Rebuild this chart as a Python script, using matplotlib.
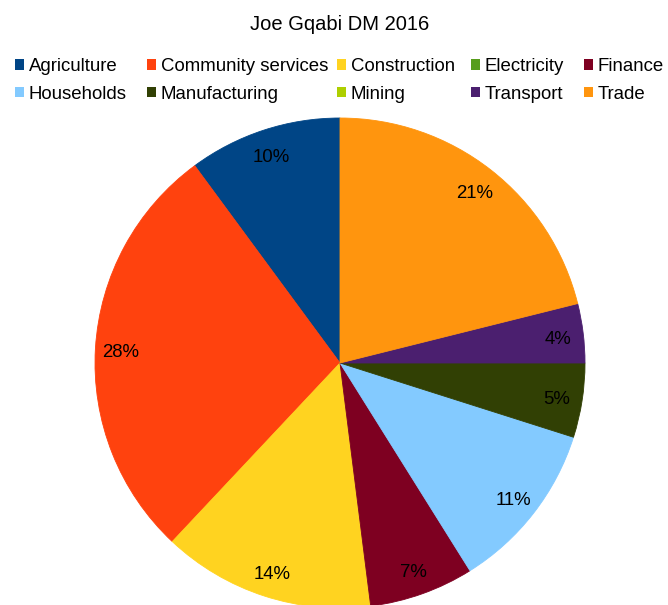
import matplotlib.pyplot as plt
from matplotlib.patches import Patch
from matplotlib.transforms import offset_copy

plt.rcParams['font.family'] = ['Liberation Sans', 'DejaVu Sans']

# Sector shares, Joe Gqabi DM 2016
sectors = ['Agriculture', 'Community services', 'Construction', 'Electricity', 'Finance',
           'Households', 'Manufacturing', 'Mining', 'Transport', 'Trade']
shares = [10.1, 27.9, 14.0, 0.0, 6.9, 11.2, 4.9, 0.0, 3.9, 21.1]
colors = ['#004586', '#ff420e', '#ffd320', '#579d1c', '#7e0021',
          '#83caff', '#314004', '#aecf00', '#4b1f6f', '#ff950e']

W, H = 668, 605
fig = plt.figure(figsize=(W / 100, H / 100), dpi=100)

# pie centre and radius in pixels
cx, cy, r = 340, 363, 245
ax = fig.add_axes([(cx - r) / W, (H - cy - r) / H, 2 * r / W, 2 * r / H])


def pct_label(p):
    return f'{p:.0f}%' if p >= 0.5 else ''


wedges, _, autotexts = ax.pie(shares, colors=colors, startangle=90, counterclock=True,
                              autopct=pct_label, pctdistance=0.895,
                              wedgeprops=dict(linewidth=0),
                              textprops=dict(fontsize=13.4, color='black'))
# thin edge in the wedge's own colour hides antialiasing seams
for w, s in zip(wedges, shares):
    if s > 0:
        w.set_edgecolor(w.get_facecolor())
        w.set_linewidth(0.6)
# nudge the percentage labels down a little so the digits sit centred
for t in autotexts:
    t.set_transform(offset_copy(ax.transData, fig=fig, y=-3, units='dots'))
ax.set_xlim(-1, 1)
ax.set_ylim(-1, 1)
ax.set_aspect('equal')
ax.axis('off')

fig.text(cx / W, 1 - 24 / H, 'Joe Gqabi DM 2016', ha='center', va='center', fontsize=14.5)

# legend laid out row by row: one small legend per column, two rows each
ncol = 5
col_x = [15, 147, 337, 471, 584]
handles = [Patch(facecolor=c, edgecolor='none') for c in colors]
for j in range(ncol):
    idx = [j, j + ncol]
    leg = fig.legend([handles[i] for i in idx], [sectors[i] for i in idx],
                     loc='upper left', bbox_to_anchor=(col_x[j] / W, 1 - 58 / H),
                     frameon=False, fontsize=13.4, handlelength=0.5, handleheight=0.5,
                     handletextpad=0.25, labelspacing=0.57,
                     borderaxespad=0, borderpad=0)

fig.savefig('out.png', dpi=100)
